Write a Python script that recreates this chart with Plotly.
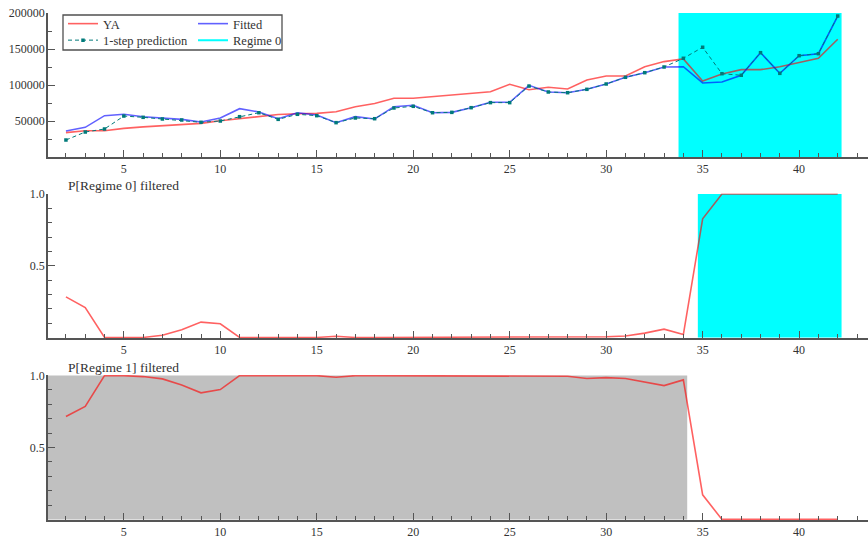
import plotly.graph_objects as go

# ---------------- data ----------------
t = list(range(2, 43))

ya = [33800, 36500, 36500, 39800, 41800, 43500, 45000, 46700, 50400, 53500,
      56900, 59000, 60000, 60600, 62900, 69900, 74300, 81500, 81500, 84000,
      86100, 88900, 90700, 101000, 93500, 96800, 94500, 107000, 112500, 112500,
      125400, 132500, 136300, 105600, 115300, 121300, 121300, 125400, 131500, 137100,
      163500]

fitted = [36100, 41200, 57400, 59300, 56000, 53700, 52300, 48600, 54200, 67100,
          62500, 53200, 61500, 58300, 47700, 56000, 52800, 69900, 71800, 61500,
          62000, 68500, 76000, 76000, 99600, 90300, 89300, 94000, 101400, 110700,
          117100, 125000, 125400, 102800, 104200, 113500, 144900, 116200, 140700, 143500,
          195800]

pred1 = [23600, 34700, 38900, 56900, 55100, 52800, 51400, 48200, 50000, 56000,
         61500, 52300, 59300, 57400, 47700, 54200, 53200, 68100, 70400, 61500,
         62000, 68500, 75500, 75500, 98500, 90300, 89300, 94000, 101400, 110700,
         117100, 125000, 137100, 152400, 115700, 113500, 144900, 116200, 140700, 143500,
         195800]

p_regime0 = [0.283, 0.208, 0.0, 0.0, 0.0, 0.015, 0.054, 0.107, 0.095, 0.0,
             0.0, 0.0, 0.0, 0.0, 0.008, 0.0, 0.0, 0.0, 0.0, 0.0,
             0.0, 0.0, 0.0, 0.0, 0.0, 0.0, 0.003, 0.005, 0.005, 0.01,
             0.03, 0.058, 0.02, 0.827, 1.0, 1.0, 1.0, 1.0, 1.0, 1.0,
             1.0]

p_regime1 = [0.715, 0.785, 1.0, 1.0, 0.993, 0.977, 0.935, 0.88, 0.903, 1.0,
             1.0, 1.0, 1.0, 1.0, 0.988, 1.0, 1.0, 1.0, 1.0, 1.0,
             1.0, 1.0, 1.0, 1.0, 1.0, 1.0, 0.995, 0.98, 0.986, 0.98,
             0.955, 0.93, 0.97, 0.171, 0.0, 0.0, 0.0, 0.0, 0.0, 0.0,
             0.0]

# regime shading spans (x from, x to)
regime0_span_top = [33.75, 42.2]
regime0_span_mid = [34.75, 42.2]
regime1_span_bot = [1.0, 34.2]

x_ticks = [5, 10, 15, 20, 25, 30, 35, 40]
top_ticks = [50000, 100000, 150000, 200000]
prob_ticks = [0.5, 1.0]

# ---------------- styling ----------------
W, H = 868, 543
ML, MR, MT, MB = 48, 0, 13, 23
PW, PH = W - ML - MR, H - MT - MB
FONT = "Liberation Serif"
TXT = "#333333"
AX = "#555555"
RED = "rgba(255,0,0,0.62)"
BLUE = "rgba(0,0,255,0.62)"
TEAL = "#007a7a"


def py(pix):  # pixel row -> paper y
    return min(1.0, max(0.0, (H - MB - pix) / PH))


def px(pix):  # pixel column -> paper x
    return (pix - ML) / PW


fig = go.Figure()

# top panel
fig.add_trace(go.Scatter(x=t, y=ya, mode="lines", name="YA",
                         line=dict(color=RED, width=1.6),
                         xaxis="x", yaxis="y", legend="legend"))
fig.add_trace(go.Scatter(x=t, y=fitted, mode="lines", name="Fitted",
                         line=dict(color=BLUE, width=1.6),
                         xaxis="x", yaxis="y", legend="legend2"))
fig.add_trace(go.Scatter(x=t, y=pred1, mode="lines+markers", name="1-step prediction",
                         line=dict(color=TEAL, width=1, dash="4px,3px"),
                         marker=dict(color=TEAL, size=3.5, symbol="square"),
                         xaxis="x", yaxis="y", legend="legend3"))
fig.add_trace(go.Scatter(x=[None], y=[None], mode="lines", name="Regime 0",
                         line=dict(color="#00ffff", width=2),
                         xaxis="x", yaxis="y", legend="legend4"))

# middle panel
fig.add_trace(go.Scatter(x=t, y=p_regime0, mode="lines", showlegend=False,
                         line=dict(color=RED, width=1.6),
                         xaxis="x2", yaxis="y2"))
# bottom panel
fig.add_trace(go.Scatter(x=t, y=p_regime1, mode="lines", showlegend=False,
                         line=dict(color=RED, width=1.6),
                         xaxis="x3", yaxis="y3"))

shapes = [
    dict(type="rect", xref="x", yref="y", x0=regime0_span_top[0], x1=regime0_span_top[1],
         y0=0, y1=top_ticks[-1], fillcolor="#00ffff", line=dict(width=0), layer="below"),
    dict(type="rect", xref="x2", yref="y2", x0=regime0_span_mid[0], x1=regime0_span_mid[1],
         y0=0, y1=1, fillcolor="#00ffff", line=dict(width=0), layer="below"),
    dict(type="rect", xref="x3", yref="y3", x0=regime1_span_bot[0], x1=regime1_span_bot[1],
         y0=0, y1=1, fillcolor="#c0c0c0", line=dict(width=0), layer="below"),
    # legend frame
    dict(type="rect", xref="paper", yref="paper", x0=px(63), x1=px(282),
         y0=py(50), y1=py(15), line=dict(color="#505050", width=1.3),
         fillcolor="rgba(0,0,0,0)", layer="above"),
]

xcommon = dict(range=[1.07, 43.57], tickmode="array", tickvals=x_ticks,
               ticks="inside", ticklen=7, tickwidth=1.3, tickcolor=AX,
               showline=True, linecolor=AX, linewidth=1.5,
               showgrid=False, zeroline=False, automargin=False,
               tickfont=dict(family=FONT, size=12, color=TXT),
               minor=dict(tickmode="linear", tick0=0, dtick=1, ticks="inside",
                          ticklen=4, tickcolor=AX, tickwidth=1.2, showgrid=False))
ycommon = dict(ticks="inside", ticklen=7, tickwidth=1.3, tickcolor=AX,
               showline=True, linecolor=AX, linewidth=1.5,
               showgrid=False, zeroline=False, ticklabelstandoff=-1, automargin=False,
               tickfont=dict(family=FONT, size=12, color=TXT))


def leg(xpix, ypix):
    return dict(x=px(xpix), y=py(ypix), xanchor="left", yanchor="middle",
                bgcolor="rgba(0,0,0,0)", borderwidth=0, tracegroupgap=0,
                font=dict(family=FONT, size=12.5, color=TXT))


fig.update_layout(
    width=W, height=H,
    margin=dict(l=ML, r=MR, t=MT, b=MB, autoexpand=False),
    paper_bgcolor="white", plot_bgcolor="rgba(0,0,0,0)",
    font=dict(family=FONT, size=12.5, color=TXT),
    shapes=shapes,
    xaxis=dict(xcommon, anchor="y", domain=[0, 1]),
    xaxis2=dict(xcommon, anchor="y2", domain=[0, 1]),
    xaxis3=dict(xcommon, anchor="y3", domain=[0, 1]),
    yaxis=dict(ycommon, anchor="x", domain=[py(157), py(13)], range=[0, 200000],
               tickmode="array", tickvals=top_ticks, tickformat="d",
               minor=dict(tickmode="linear", tick0=0, dtick=25000, ticks="inside",
                          ticklen=4, tickcolor=AX, tickwidth=1.2)),
    yaxis2=dict(ycommon, anchor="x2", domain=[py(338), py(193.5)], range=[-0.004, 1.004],
                tickmode="array", tickvals=prob_ticks, tickformat=".1f",
                minor=dict(tickmode="linear", tick0=0, dtick=0.1, ticks="inside",
                           ticklen=4, tickcolor=AX, tickwidth=1.2)),
    yaxis3=dict(ycommon, anchor="x3", domain=[py(520), py(375)], range=[-0.004, 1.004],
                tickmode="array", tickvals=prob_ticks, tickformat=".1f",
                minor=dict(tickmode="linear", tick0=0, dtick=0.1, ticks="inside",
                           ticklen=4, tickcolor=AX, tickwidth=1.2)),
    legend=leg(63, 24),
    legend2=leg(193, 24),
    legend3=leg(63, 40.5),
    legend4=leg(193, 40.5),
    annotations=[
        dict(text="P[Regime 0] filtered", xref="paper", yref="paper",
             x=px(66), y=py(186), xanchor="left", yanchor="middle", showarrow=False,
             font=dict(family=FONT, size=13.5, color=TXT)),
        dict(text="P[Regime 1] filtered", xref="paper", yref="paper",
             x=px(66), y=py(367), xanchor="left", yanchor="middle", showarrow=False,
             font=dict(family=FONT, size=13.5, color=TXT)),
    ],
)

fig.write_html("out.html", config={"displayModeBar": False},
               post_script="document.body.style.margin='0';")
